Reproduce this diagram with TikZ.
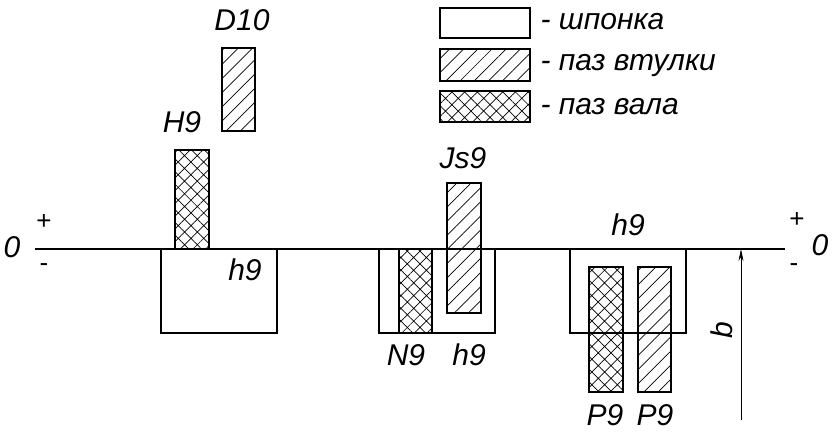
\documentclass[tikz,border=0pt]{standalone}
\usepackage{fontspec}
\setmainfont{Liberation Sans}
\usetikzlibrary{patterns.meta,arrows.meta}
\begin{document}
\begin{tikzpicture}[x=1pt,y=-1pt,line width=1.3pt,
 key/.style={draw,fill=white},
 hub/.style={draw,pattern={Lines[angle=45,distance=10pt,line width=0.7pt]}},
 shaft/.style={draw,pattern={Hatch[angle=45,distance=9pt,line width=0.7pt]}},
 lbl/.style={font=\fontsize{30}{34}\selectfont\itshape,inner sep=0pt},
 sgn/.style={font=\fontsize{26}{30}\selectfont,inner sep=0pt}]
\useasboundingbox (0,0) rectangle (840,442);
% legend
\draw[key] (440,8) rectangle (530,38);
\draw[hub] (440,49) rectangle (530,81);
\draw[shaft] (440,91) rectangle (530,122);
\node[lbl,anchor=west] (l1) at (540,22) {- шпонка};
\node[lbl,anchor=west] (l2) at (540,66) {- паз втулки};
\node[lbl,anchor=west] (l3) at (540,107) {- паз вала};
% zero line
\draw[line width=1.5pt] (35,249) -- (785,249);
\node[lbl] (z1) at (12,247) {0};
\node[lbl] (z2) at (820,245) {0};
\node[sgn] (p1) at (44,222) {+};
\node[sgn] (m1) at (44,268) {-};
\node[sgn] (p2) at (797,220) {+};
\node[sgn] (m2) at (794,268) {-};
% group 1
\draw[key] (161,249) rectangle (277,333);
\draw[shaft] (175,150) rectangle (209,249);
\draw[hub] (222,48) rectangle (255,131);
\node[lbl] (a1) at (245,270) {h9};
\node[lbl] (a2) at (182,122) {H9};
\node[lbl] (a3) at (242,20) {D10};
% group 2
\draw[key] (379,249) rectangle (495,333);
\draw[shaft] (399,249) rectangle (432,333);
\draw[hub] (447,183) rectangle (481,313);
\node[lbl] (b1) at (463,158) {Js9};
\node[lbl] (b2) at (406,355) {N9};
\node[lbl] (b3) at (469,355) {h9};
% group 3
\draw[key] (570,249) rectangle (686,333);
\draw[shaft] (589,267) rectangle (623,392);
\draw[hub] (638,267) rectangle (671,392);
\node[lbl] (c1) at (628,225) {h9};
\node[lbl] (c2) at (605,415) {P9};
\node[lbl] (c3) at (655,415) {P9};
% b arrow
\coordinate (bs) at (741,420);
\coordinate (be) at (741,249);
\draw[line width=0.8pt,-{Stealth[length=12pt,width=5pt]}] (bs) -- (be);
\node[lbl,rotate=90] (bl) at (722,330) {b};
\end{tikzpicture}
\end{document}
